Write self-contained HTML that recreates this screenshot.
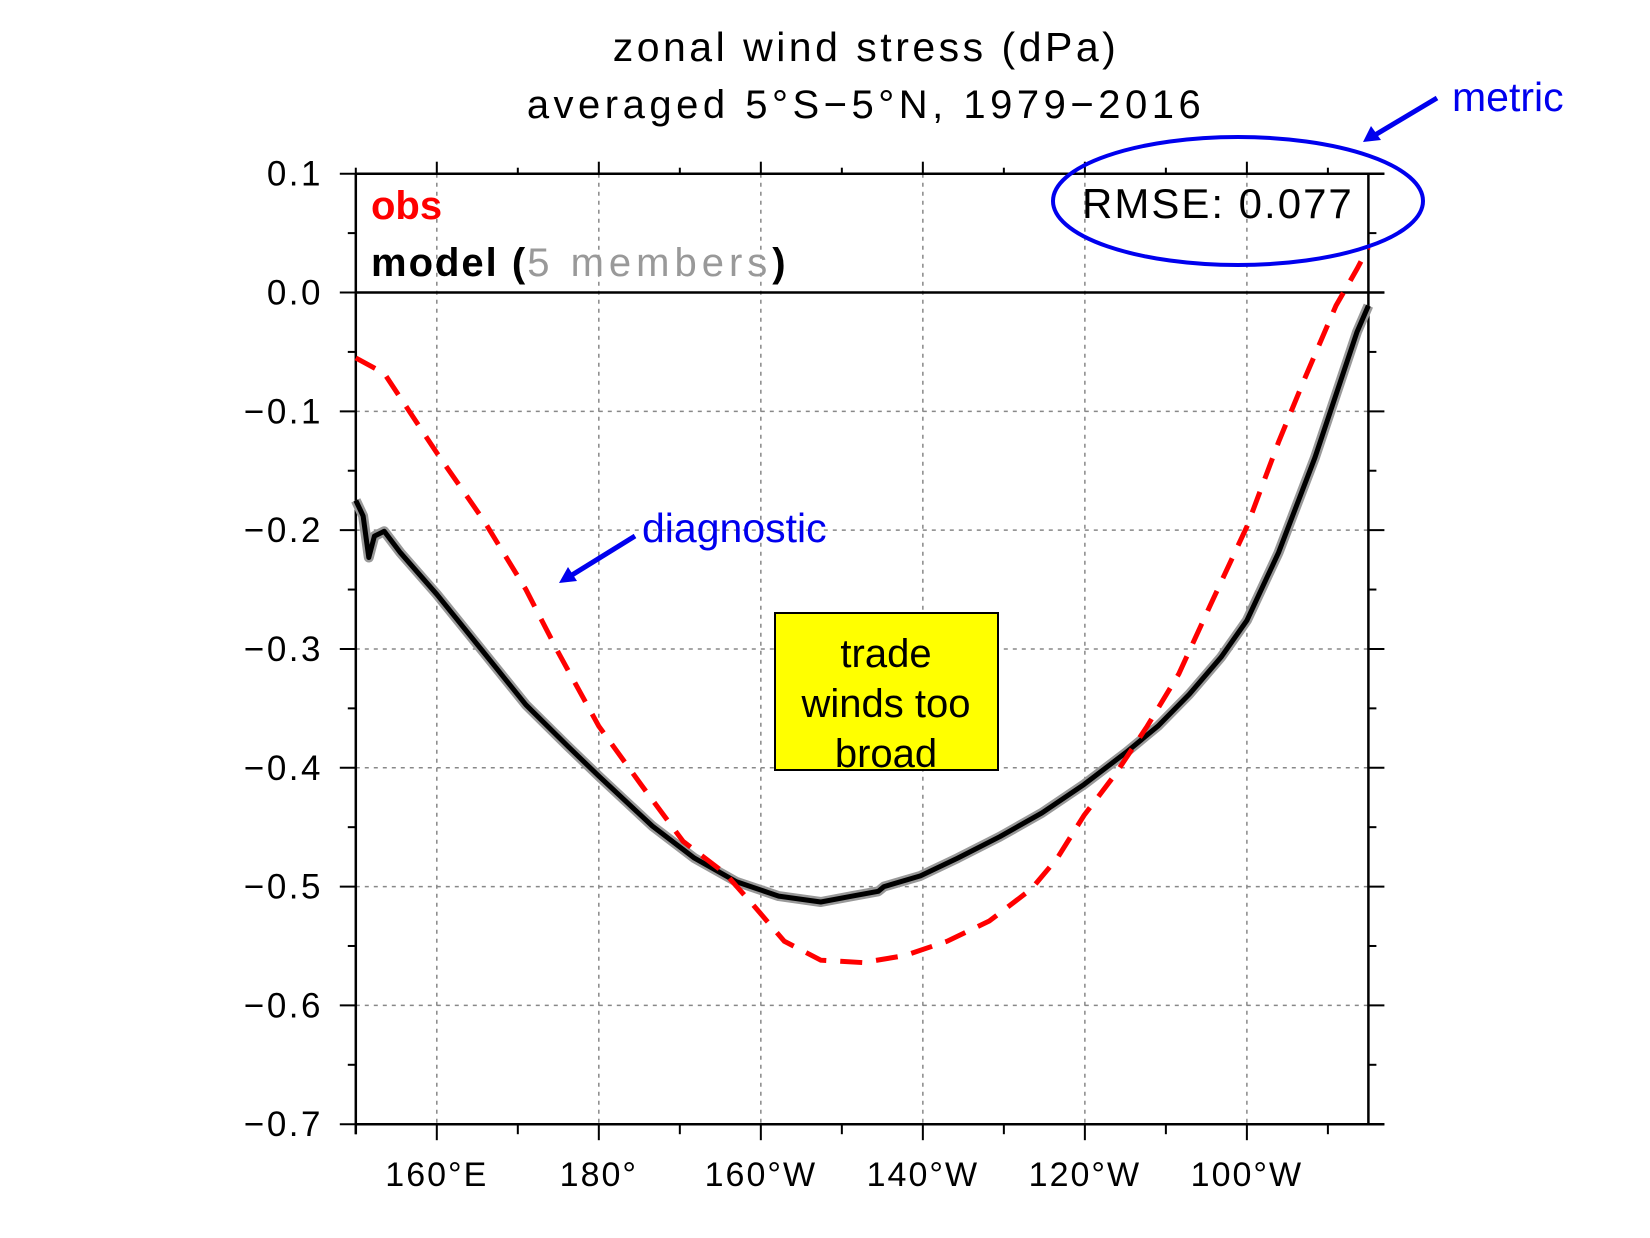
<!DOCTYPE html>
<html><head><meta charset="utf-8"><style>
html,body{margin:0;padding:0;background:#fff;}
svg{display:block;font-family:"Liberation Sans",sans-serif;}
</style></head><body>
<svg id="chart" width="1650" height="1238" viewBox="0 0 1650 1238">
<text x="866" y="61" text-anchor="middle" font-size="41" letter-spacing="3.5">zonal wind stress (dPa)</text>
<text x="866" y="118" text-anchor="middle" font-size="40" letter-spacing="4.5">averaged 5°S−5°N, 1979−2016</text>
<g id="grid"></g>
<g id="axes"></g>
<g id="series"></g>
<text x="371" y="219" font-size="40" font-weight="bold" fill="#ff0000">obs</text>
<text x="371" y="276" font-size="40" font-weight="bold" letter-spacing="2">model (<tspan fill="#999" font-weight="normal" letter-spacing="5">5 members</tspan>)</text>
<text x="1082" y="218" font-size="42" letter-spacing="2">RMSE: 0.077</text>
<ellipse cx="1238" cy="201" rx="185" ry="64" fill="none" stroke="#0000ee" stroke-width="4"/>
<text x="1452" y="111" font-size="41" fill="#0000ee">metric</text>
<line x1="1437" y1="98" x2="1375" y2="135" stroke="#0000ee" stroke-width="5"/>
<polygon points="1363,142 1371,126 1381,140" fill="#0000ee"/>
<text x="642" y="542" font-size="41" fill="#0000ee">diagnostic</text>
<line x1="635" y1="536" x2="572" y2="575" stroke="#0000ee" stroke-width="5"/>
<polygon points="559,583 568,567 577,581" fill="#0000ee"/>
<rect x="775" y="613" width="223" height="157" fill="#ffff00" stroke="#000" stroke-width="2"/>
<text x="886" y="667" text-anchor="middle" font-size="40">trade</text>
<text x="886" y="717" text-anchor="middle" font-size="40">winds too</text>
<text x="886" y="767" text-anchor="middle" font-size="40">broad</text>
</svg>
<script>
const obsLon=[150,153.5,160,165.8,171,175,180,185.2,190.4,195.6,199,202.9,207.4,212.6,217.8,223,228.2,233.4,236.6,239.9,243.8,247.7,251.6,255.5,260,263.9,267.1,271,273.6,275];
const obsVal=[-0.055,-0.068,-0.135,-0.192,-0.25,-0.303,-0.365,-0.414,-0.462,-0.489,-0.515,-0.546,-0.562,-0.564,-0.558,-0.546,-0.529,-0.502,-0.476,-0.44,-0.405,-0.365,-0.321,-0.263,-0.197,-0.126,-0.073,-0.011,0.02,0.038];
const modelLon=[150,150.9,151.6,152.3,153.5,155.5,160,165.8,171,176.2,180,186.6,191.8,197,202.2,207.4,211.3,214.5,215.2,219.7,224.3,229.5,234.7,239.9,245.1,249,252.9,256.8,260,263.9,268.4,271,273.6,275];
const modelVal=[-0.175,-0.188,-0.223,-0.205,-0.201,-0.219,-0.254,-0.303,-0.347,-0.382,-0.407,-0.449,-0.476,-0.496,-0.508,-0.513,-0.508,-0.504,-0.5,-0.491,-0.476,-0.458,-0.438,-0.414,-0.387,-0.365,-0.338,-0.307,-0.276,-0.219,-0.139,-0.086,-0.033,-0.011];
const xTickLon=[160,180,200,220,240,260];
const xTickLabels=["160°E","180°","160°W","140°W","120°W","100°W"];
const yTickVals=[0.1,0,-0.1,-0.2,-0.3,-0.4,-0.5,-0.6,-0.7];
const yTickLabels=["0.1","0.0","−0.1","−0.2","−0.3","−0.4","−0.5","−0.6","−0.7"];
const L=355.8,R=1368.4,T=173.7,B=1124.2;
const xMin=150,xMax=275,yMin=-0.7,yMax=0.1;
const X=v=>L+(v-xMin)/(xMax-xMin)*(R-L);
const Y=v=>B-(v-yMin)/(yMax-yMin)*(B-T);
const NS="http://www.w3.org/2000/svg";
function mk(tag,attrs,parent){const e=document.createElementNS(NS,tag);for(const k in attrs)e.setAttribute(k,attrs[k]);parent.appendChild(e);return e;}
const grid=document.getElementById('grid'),axes=document.getElementById('axes'),series=document.getElementById('series');
xTickLon.forEach((lon,i)=>{
  const g=mk('line',{x1:X(lon),x2:X(lon),y1:T,y2:B,stroke:'#888','stroke-width':1.5,'stroke-dasharray':'4,5'},grid);
  
  
  const t=mk('text',{x:X(lon),y:1186,'text-anchor':'middle','font-size':34,'letter-spacing':2},axes);
  t.textContent=xTickLabels[i];
  
  
});
for(let lon=150;lon<=270;lon+=10){
  const major=xTickLon.includes(lon);
  const a=mk('line',{x1:X(lon),x2:X(lon),y1:B,y2:B+(major?16:10),stroke:'#000','stroke-width':2},axes);
  
  
  const b=mk('line',{x1:X(lon),x2:X(lon),y1:T,y2:T-(major?12:6),stroke:'#000','stroke-width':2},axes);
  
  
}
yTickVals.forEach((v,i)=>{
  if(v!==0&&v!==0.1&&v!==-0.7){
    const g=mk('line',{x1:L,x2:R,y1:Y(v),y2:Y(v),stroke:'#888','stroke-width':1.5,'stroke-dasharray':'4,5'},grid);
    
    
  }
  const a=mk('line',{x1:L-16,x2:L,y1:Y(v),y2:Y(v),stroke:'#000','stroke-width':2},axes);
  
  
  const b=mk('line',{x1:R,x2:R+16,y1:Y(v),y2:Y(v),stroke:'#000','stroke-width':2},axes);
  
  
  const t=mk('text',{x:323,y:Y(v)+12,'text-anchor':'end','font-size':35,'letter-spacing':2.5},axes);
  t.textContent=yTickLabels[i];
  
  
});
for(let v=0.05;v>-0.7;v-=0.1){
  const a=mk('line',{x1:L-8,x2:L,y1:Y(v),y2:Y(v),stroke:'#000','stroke-width':2},axes);
  
  
  const b=mk('line',{x1:R,x2:R+8,y1:Y(v),y2:Y(v),stroke:'#000','stroke-width':2},axes);
  
  
}
const z=mk('line',{x1:L,x2:R+16,y1:Y(0),y2:Y(0),stroke:'#000','stroke-width':2.5},axes);


const frame=mk('path',{d:`M${L},${T}H${R+16}M${L},${B}H${R+16}M${L},${T}V${B+10}M${R},${T}V${B}`,stroke:'#000','stroke-width':2.5,fill:'none'},axes);


const pts=(xs,ys)=>xs.map((x,i)=>X(x).toFixed(1)+','+Y(ys[i]).toFixed(1)).join(' ');
const mem=mk('polyline',{points:pts(modelLon,modelVal),fill:'none',stroke:'#999','stroke-width':10,'stroke-linejoin':'round'},series);


const mean=mk('polyline',{points:pts(modelLon,modelVal),fill:'none',stroke:'#000','stroke-width':5,'stroke-linejoin':'round'},series);


const obs=mk('polyline',{points:pts(obsLon,obsVal),fill:'none',stroke:'#ff0000','stroke-width':5,'stroke-dasharray':'22,14'},series);


</script>
</body></html>
